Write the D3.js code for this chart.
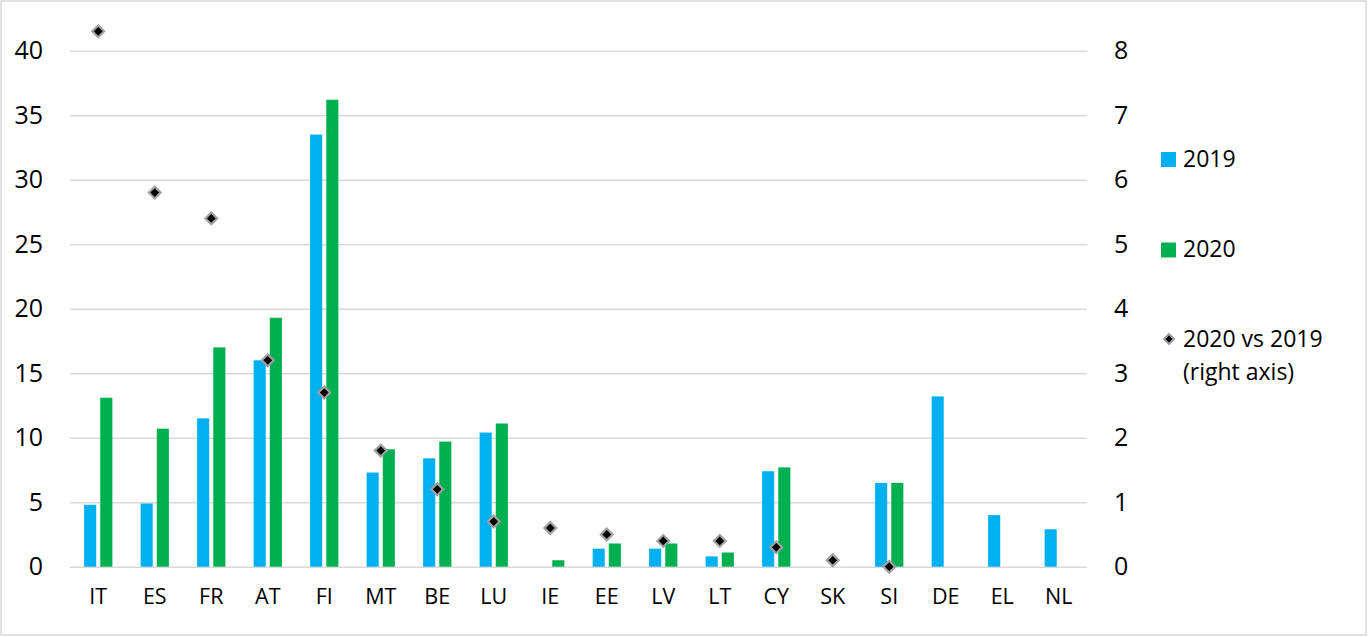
<!DOCTYPE html>
<html>
<head>
<meta charset="utf-8">
<script src="https://cdn.jsdelivr.net/npm/d3@7"></script>
<style>
  body { margin: 0; background: #fff; }
  text { font-family: "Open Sans", "Noto Sans", sans-serif; }
</style>
</head>
<body>
<div id="my_dataviz"></div>
<script>
// data
const countries = ["IT","ES","FR","AT","FI","MT","BE","LU","IE","EE","LV","LT","CY","SK","SI","DE","EL","NL"];
const values2019 = [4.8, 4.9, 11.5, 16.0, 33.5, 7.3, 8.4, 10.4, null, 1.4, 1.4, 0.8, 7.4, null, 6.5, 13.2, 4.0, 2.9];
const values2020 = [13.1, 10.7, 17.0, 19.3, 36.2, 9.1, 9.7, 11.1, 0.5, 1.8, 1.8, 1.1, 7.7, null, 6.5, null, null, null];
const diff = [8.3, 5.8, 5.4, 3.2, 2.7, 1.8, 1.2, 0.7, 0.6, 0.5, 0.4, 0.4, 0.3, 0.1, 0.0, null, null, null];
const leftTicks = [0, 5, 10, 15, 20, 25, 30, 35, 40];
const rightTicks = [0, 1, 2, 3, 4, 5, 6, 7, 8];
const seriesNames = ["2019", "2020"];

const W = 1369, H = 637;
const margin = {top: 50.7, left: 70, right: 282, bottom: 70.3};
const width = W - margin.left - margin.right,
      height = H - margin.top - margin.bottom;

const svg = d3.select("#my_dataviz")
  .append("svg")
    .attr("width", W)
    .attr("height", H);

// outer frame
svg.append("rect")
  .attr("x", 1).attr("y", 1)
  .attr("width", W - 4).attr("height", H - 3)
  .attr("fill", "white")
  .attr("stroke", "#d9d9d9")
  .attr("stroke-width", 1.5);

const g = svg.append("g")
  .attr("transform", `translate(${margin.left},${margin.top})`);

const x = d3.scaleBand()
  .domain(countries)
  .range([0, width])
  .paddingInner(0.5)
  .paddingOuter(0.25);

const xSub = d3.scaleBand()
  .domain(seriesNames)
  .range([0, x.bandwidth()])
  .paddingInner(0.25);

const y = d3.scaleLinear().domain([0, 40]).range([height, 0]);
const y2 = d3.scaleLinear().domain([0, 8]).range([height, 0]);

const color = d3.scaleOrdinal()
  .domain(seriesNames)
  .range(["#00B0F0", "#00B050"]);

// left axis + gridlines
const yAxis = g.append("g")
  .call(d3.axisLeft(y).tickValues(leftTicks).tickSize(-width).tickPadding(27));
yAxis.select(".domain").remove();
yAxis.selectAll(".tick line").attr("stroke", "#d9d9d9").attr("stroke-width", 1.4);
yAxis.selectAll(".tick text")
  .attr("font-size", 25)
  .attr("fill", "#000")
  .attr("font-family", "Open Sans");

// right axis
const y2Axis = g.append("g")
  .attr("transform", `translate(${width},0)`)
  .call(d3.axisRight(y2).tickValues(rightTicks).tickSize(0).tickPadding(27));
y2Axis.select(".domain").remove();
y2Axis.selectAll(".tick text")
  .attr("font-size", 25)
  .attr("fill", "#000")
  .attr("font-family", "Open Sans");

// bottom axis labels
const xAxis = g.append("g")
  .attr("transform", `translate(0,${height})`)
  .call(d3.axisBottom(x).tickSize(0).tickPadding(22));
xAxis.select(".domain").remove();
xAxis.selectAll(".tick text")
  .attr("font-size", 21.5)
  .attr("fill", "#000")
  .attr("font-family", "Open Sans");

// bars
const rows = countries.map((c, i) => ({country: c, "2019": values2019[i], "2020": values2020[i]}));

g.append("g")
  .selectAll("g")
  .data(rows)
  .join("g")
    .attr("transform", d => `translate(${x(d.country)},0)`)
  .selectAll("rect")
  .data(d => seriesNames.map(k => ({key: k, value: d[k]})).filter(e => e.value != null))
  .join("rect")
    .attr("x", d => xSub(d.key))
    .attr("y", d => y(d.value))
    .attr("width", xSub.bandwidth())
    .attr("height", d => y(0) - y(d.value))
    .attr("fill", d => color(d.key));

// diamonds on right axis
const diamond = d3.symbol().type(d3.symbolSquare).size(70);
g.append("g")
  .selectAll("path")
  .data(countries.map((c, i) => ({country: c, value: diff[i]})).filter(d => d.value != null))
  .join("path")
    .attr("d", diamond)
    .attr("transform", d => `translate(${x(d.country) + x.bandwidth() / 2},${y2(d.value)}) rotate(45)`)
    .attr("fill", "#000")
    .attr("stroke", "#a0a0a0")
    .attr("stroke-width", 2.2);

// legend
const lx = 1161, fs = 23;
svg.append("rect").attr("x", lx).attr("y", 152).attr("width", 15).attr("height", 15).attr("fill", color("2019"));
svg.append("text").attr("x", lx + 22).attr("y", 167).attr("font-size", fs).text("2019");
svg.append("rect").attr("x", lx).attr("y", 242.5).attr("width", 15).attr("height", 15).attr("fill", color("2020"));
svg.append("text").attr("x", lx + 22).attr("y", 257).attr("font-size", fs).text("2020");
svg.append("path")
  .attr("d", d3.symbol().type(d3.symbolSquare).size(50))
  .attr("transform", `translate(${lx + 8},339) rotate(45)`)
  .attr("fill", "#000")
  .attr("stroke", "#a0a0a0")
  .attr("stroke-width", 2);
svg.append("text").attr("x", lx + 22).attr("y", 347).attr("font-size", fs).text("2020 vs 2019");
svg.append("text").attr("x", lx + 22).attr("y", 380).attr("font-size", fs).text("(right axis)");
</script>
</body>
</html>
